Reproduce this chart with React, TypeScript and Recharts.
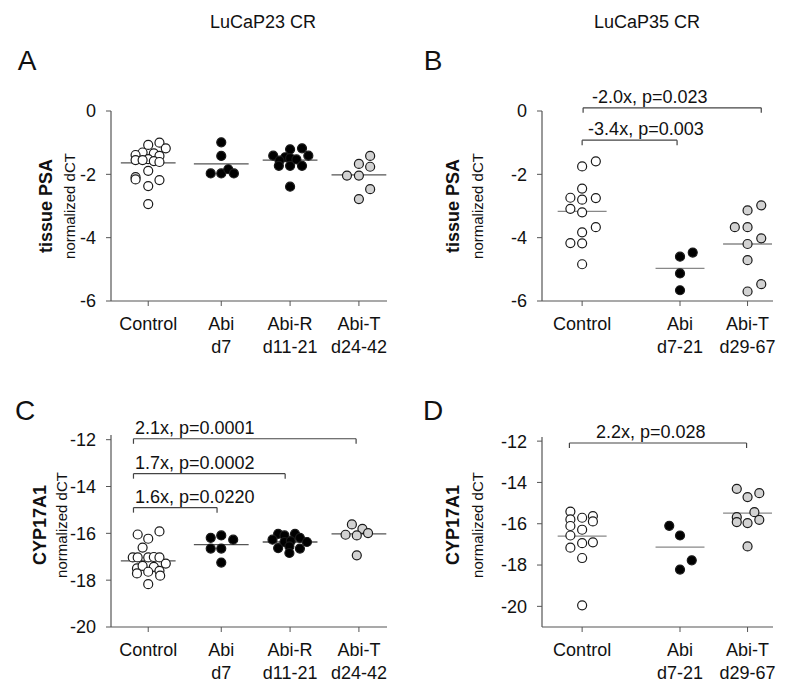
import React from 'react';
import { ScatterChart, Scatter, XAxis, YAxis, ReferenceLine, ReferenceDot } from 'recharts';

const FONT = '"Liberation Sans", Arial, sans-serif';

// ---------- categories ----------
const cats23 = ['Control', 'Abi', 'Abi-R', 'Abi-T'];
const subs23 = ['', 'd7', 'd11-21', 'd24-42'];
const pos23 = [1, 2.04, 3.02, 4];

const cats35 = ['Control', 'Abi', 'Abi-T'];
const subs35 = ['', 'd7-21', 'd29-67'];
const pos35 = [1, 2, 2.69];

// ---------- Panel A: LuCaP23 tissue PSA ----------
const aControl = [-1.0, -1.07, -1.18, -1.31, -1.39, -1.34, -1.42, -1.52, -1.55, -1.55, -1.58, -1.61, -1.89, -2.09, -2.16, -2.18, -2.37, -2.94];
const aControlJit = [0.16, 0, 0.25, -0.08, -0.18, 0.08, 0.16, 0, -0.18, -0.08, 0.08, 0.16, 0, -0.18, -0.18, 0.16, 0, 0];
const aAbi = [-0.99, -1.42, -1.97, -1.97, -1.84, -1.97];
const aAbiJit = [0, 0, -0.15, 0, 0.1, 0.18];
const aAbiR = [-1.41, -1.46, -1.21, -1.18, -1.41, -1.57, -1.49, -1.53, -1.73, -1.73, -1.73, -2.39];
const aAbiRJit = [-0.24, -0.07, 0, 0.17, 0.26, -0.15, 0, 0.09, -0.16, 0, 0.17, 0];
const aAbiT = [-2.04, -2.04, -1.67, -1.42, -1.76, -2.47, -2.78];
const aAbiTJit = [-0.17, 0, 0, 0.16, 0.16, 0.16, 0];
const aMedians = [-1.64, -1.67, -1.55, -2.02];

// ---------- Panel B: LuCaP35 tissue PSA ----------
const bControl = [-1.75, -1.59, -2.45, -2.74, -2.8, -2.75, -3.09, -3.2, -3.67, -3.83, -4.17, -4.18, -4.84];
const bControlJit = [0, 0.14, 0, -0.12, 0, 0.14, -0.12, 0, 0.14, 0, -0.12, 0, 0];
const bAbi = [-4.6, -4.47, -5.13, -5.66];
const bAbiJit = [0, 0.13, 0, 0];
const bAbiT = [-3.14, -2.98, -3.67, -3.67, -4.2, -4.02, -4.71, -5.47, -5.7];
const bAbiTJit = [0, 0.14, -0.13, 0, 0, 0.14, 0, 0.14, 0];
const bMedians = [-3.17, -4.97, -4.2];

// ---------- Panel C: LuCaP23 CYP17A1 ----------
const cControl = [-16.05, -16.23, -15.92, -16.61, -17.03, -17.03, -17.03, -17.01, -17.03, -17.29, -17.5, -17.39, -17.43, -17.64, -17.6, -17.71, -17.81, -18.17];
const cControlJit = [-0.15, 0, 0.16, -0.08, -0.22, -0.15, 0, 0.08, 0.16, 0.25, -0.16, -0.08, 0.08, 0, 0.16, -0.16, 0.17, 0];
const cAbi = [-16.19, -16.09, -16.27, -16.65, -16.65, -17.25];
const cAbiJit = [-0.15, 0, 0.17, -0.15, 0, 0];
const cAbiR = [-16.02, -16.09, -16.02, -16.19, -16.27, -16.37, -16.33, -16.37, -16.63, -16.56, -16.65, -16.84];
const cAbiRJit = [-0.17, -0.08, 0.07, 0.14, -0.25, -0.08, 0.01, 0.24, -0.17, -0.01, 0.14, -0.01];
const cAbiT = [-15.62, -15.81, -16.06, -16.09, -15.99, -16.94];
const cAbiTJit = [-0.1, 0.05, -0.19, -0.03, 0.13, -0.03];
const cMedians = [-17.18, -16.48, -16.37, -16.02];

// ---------- Panel D: LuCaP35 CYP17A1 ----------
const dControl = [-15.41, -15.79, -15.71, -15.63, -15.89, -16.11, -16.29, -16.57, -17.16, -16.94, -16.9, -17.66, -19.95];
const dControlJit = [-0.12, -0.12, 0, 0.11, 0.11, -0.12, 0, -0.12, -0.12, 0, 0.11, 0, 0];
const dAbi = [-16.1, -16.57, -17.77, -18.22];
const dAbiJit = [-0.11, 0, 0.12, 0];
const dAbiT = [-14.31, -14.71, -14.52, -15.68, -15.44, -15.81, -15.92, -15.97, -17.1];
const dAbiTJit = [-0.11, 0, 0.12, -0.11, 0.07, 0.12, -0.11, 0, 0];
const dMedians = [-16.6, -17.13, -15.49];

// ---------- significance brackets ----------
const bBrackets = [
  { from: 1.01, to: 2.83, y: 0.1, labelX: 1.05, label: '-2.0x, p=0.023' },
  { from: 1.0, to: 1.97, y: -0.92, labelX: 1.01, label: '-3.4x, p=0.003' },
];
const cBrackets = [
  { from: 0.79, to: 3.96, y: -11.96, labelX: 0.74, label: '2.1x, p=0.0001' },
  { from: 0.79, to: 2.95, y: -13.45, labelX: 0.74, label: '1.7x, p=0.0002' },
  { from: 0.79, to: 1.98, y: -14.9, labelX: 0.74, label: '1.6x, p=0.0220' },
];
const dBrackets = [
  { from: 0.87, to: 2.68, y: -12.09, labelX: 1.09, label: '2.2x, p=0.028' },
];

const yTicksPSA = [0, -2, -4, -6];
const yTicksCYP = [-12, -14, -16, -18, -20];

const WHITE = '#ffffff';
const BLACK = '#000000';
const GRAY = '#d2d2d2';

type Group = { vals: number[]; jit: number[]; fill: string };
type Bracket = { from: number; to: number; y: number; labelX: number; label: string };

const makeShape = (fill: string) => (props: any) => {
  const { cx, cy } = props;
  if (cx == null || cy == null) return null;
  return <circle cx={cx} cy={cy} r={4.5} fill={fill} stroke="#1a1a1a" strokeWidth={1.2} />;
};

const makeXTick = (cats: string[], subs: string[], positions: number[]) => (props: any) => {
  const { x, y, payload } = props;
  let idx = props.index;
  if (payload && typeof payload.value === 'number') {
    const found = positions.findIndex((p) => Math.abs(p - payload.value) < 1e-6);
    if (found >= 0) idx = found;
  }
  return (
    <text x={x} y={y} textAnchor="middle" fontFamily={FONT} fontSize={18} fill="#111">
      <tspan x={x} dy={22}>{cats[idx]}</tspan>
      {subs[idx] ? <tspan x={x} dy={23}>{subs[idx]}</tspan> : null}
    </text>
  );
};

type PanelCfg = {
  left: number; top: number; width: number; height: number;
  margin: { top: number; right: number; bottom: number; left: number };
  yw: number; xh: number;
  xDomain: [number, number]; yDomain: [number, number]; yTicks: number[];
  positions: number[]; cats: string[]; subs: string[];
  groups: Group[]; medians: number[]; medHalf: number; medColor: string;
  brackets: Bracket[];
};

const Panel = ({ cfg }: { cfg: PanelCfg }) => {
  const drop = ((cfg.yDomain[1] - cfg.yDomain[0]) * 5) / 190;
  return (
    <div style={{ position: 'absolute', left: cfg.left, top: cfg.top }}>
      <ScatterChart width={cfg.width} height={cfg.height} margin={cfg.margin}>
        <XAxis
          type="number"
          dataKey="x"
          domain={cfg.xDomain}
          ticks={cfg.positions}
          interval={0}
          allowDataOverflow
          height={cfg.xh}
          tickSize={5}
          tickMargin={2}
          stroke="#555"
          tickLine={{ stroke: '#555' }}
          axisLine={{ stroke: '#555', strokeWidth: 1.2 }}
          tick={makeXTick(cfg.cats, cfg.subs, cfg.positions)}
        />
        <YAxis
          type="number"
          dataKey="y"
          domain={cfg.yDomain}
          ticks={cfg.yTicks}
          interval={0}
          allowDataOverflow
          width={cfg.yw}
          tickSize={5}
          tickMargin={10}
          axisLine={{ stroke: '#555', strokeWidth: 1.2 }}
          tickLine={{ stroke: '#555' }}
          tick={{ fontSize: 18, fill: '#111', fontFamily: FONT }}
        />
        {cfg.medians.map((m, i) => (
          <ReferenceLine
            key={'m' + i}
            segment={[{ x: cfg.positions[i] - cfg.medHalf, y: m }, { x: cfg.positions[i] + cfg.medHalf, y: m }]}
            stroke={cfg.medColor}
            strokeWidth={1.3}
            ifOverflow="visible"
          />
        ))}
        {cfg.groups.map((g, gi) => (
          <Scatter
            key={'g' + gi}
            data={g.vals.map((v, i) => ({ x: cfg.positions[gi] + g.jit[i], y: v }))}
            shape={makeShape(g.fill)}
            isAnimationActive={false}
          />
        ))}
        {cfg.brackets.map((b, i) => (
          <ReferenceLine
            key={'bh' + i}
            segment={[{ x: b.from, y: b.y }, { x: b.to, y: b.y }]}
            stroke="#444"
            strokeWidth={1.2}
            ifOverflow="visible"
          />
        ))}
        {cfg.brackets.map((b, i) => (
          <ReferenceLine
            key={'bl' + i}
            segment={[{ x: b.from, y: b.y }, { x: b.from, y: b.y - drop }]}
            stroke="#444"
            strokeWidth={1.2}
            ifOverflow="visible"
          />
        ))}
        {cfg.brackets.map((b, i) => (
          <ReferenceLine
            key={'br' + i}
            segment={[{ x: b.to, y: b.y }, { x: b.to, y: b.y - drop }]}
            stroke="#444"
            strokeWidth={1.2}
            ifOverflow="visible"
          />
        ))}
        {cfg.brackets.map((b, i) => (
          <ReferenceDot
            key={'bt' + i}
            x={b.labelX}
            y={b.y}
            r={0}
            fill="none"
            stroke="none"
            ifOverflow="visible"
            label={{ value: b.label, position: 'insideBottomLeft', offset: 5, fontSize: 18, fill: '#111', fontFamily: FONT }}
          />
        ))}
      </ScatterChart>
    </div>
  );
};

const panelA: PanelCfg = {
  left: 0, top: 90, width: 400, height: 270,
  margin: { top: 21, right: 13, bottom: 0, left: 80 }, yw: 31, xh: 59,
  xDomain: [0.47, 4.4], yDomain: [-6, 0], yTicks: yTicksPSA,
  positions: pos23, cats: cats23, subs: subs23,
  groups: [
    { vals: aControl, jit: aControlJit, fill: WHITE },
    { vals: aAbi, jit: aAbiJit, fill: BLACK },
    { vals: aAbiR, jit: aAbiRJit, fill: BLACK },
    { vals: aAbiT, jit: aAbiTJit, fill: GRAY },
  ],
  medians: aMedians, medHalf: 0.39, medColor: '#555', brackets: [],
};

const panelB: PanelCfg = {
  left: 400, top: 60, width: 400, height: 300,
  margin: { top: 51, right: 27, bottom: 0, left: 111 }, yw: 31, xh: 59,
  xDomain: [0.59, 2.95], yDomain: [-6, 0], yTicks: yTicksPSA,
  positions: pos35, cats: cats35, subs: subs35,
  groups: [
    { vals: bControl, jit: bControlJit, fill: WHITE },
    { vals: bAbi, jit: bAbiJit, fill: BLACK },
    { vals: bAbiT, jit: bAbiTJit, fill: GRAY },
  ],
  medians: bMedians, medHalf: 0.25, medColor: '#888', brackets: bBrackets,
};

const panelC: PanelCfg = {
  left: 0, top: 400, width: 400, height: 287,
  margin: { top: 35, right: 13, bottom: 0, left: 80 }, yw: 31, xh: 60,
  xDomain: [0.47, 4.4], yDomain: [-20, -11.8], yTicks: yTicksCYP,
  positions: pos23, cats: cats23, subs: subs23,
  groups: [
    { vals: cControl, jit: cControlJit, fill: WHITE },
    { vals: cAbi, jit: cAbiJit, fill: BLACK },
    { vals: cAbiR, jit: cAbiRJit, fill: BLACK },
    { vals: cAbiT, jit: cAbiTJit, fill: GRAY },
  ],
  medians: cMedians, medHalf: 0.39, medColor: '#555', brackets: cBrackets,
};

const panelD: PanelCfg = {
  left: 400, top: 400, width: 400, height: 287,
  margin: { top: 37, right: 27, bottom: 0, left: 111 }, yw: 31, xh: 60,
  xDomain: [0.59, 2.95], yDomain: [-21, -11.8], yTicks: yTicksCYP,
  positions: pos35, cats: cats35, subs: subs35,
  groups: [
    { vals: dControl, jit: dControlJit, fill: WHITE },
    { vals: dAbi, jit: dAbiJit, fill: BLACK },
    { vals: dAbiT, jit: dAbiTJit, fill: GRAY },
  ],
  medians: dMedians, medHalf: 0.25, medColor: '#888', brackets: dBrackets,
};

const Txt = ({ x, y, text, size, bold, rotate }: any) => (
  <div
    style={{
      position: 'absolute',
      left: x,
      top: y,
      transform: `translate(-50%, -50%)${rotate ? ' rotate(-90deg)' : ''}`,
      whiteSpace: 'nowrap',
      fontFamily: FONT,
      fontSize: size,
      fontWeight: bold ? 'bold' : 'normal',
      color: '#111',
      lineHeight: 1,
    }}
  >
    {text}
  </div>
);

export default function App() {
  return (
    <div style={{ position: 'absolute', left: 0, top: 0, width: 800, height: 687, background: '#fff', overflow: 'hidden' }}>
      <Panel cfg={panelA} />
      <Panel cfg={panelB} />
      <Panel cfg={panelC} />
      <Panel cfg={panelD} />
      <Txt x={263} y={22} text="LuCaP23 CR" size={18} />
      <Txt x={647} y={22} text="LuCaP35 CR" size={18} />
      <Txt x={27} y={61} text="A" size={28} />
      <Txt x={433} y={61} text="B" size={28} />
      <Txt x={25} y={411} text="C" size={28} />
      <Txt x={433} y={411} text="D" size={28} />
      <Txt x={46} y={206} text="tissue PSA" size={18} bold rotate />
      <Txt x={69} y={206} text="normalized dCT" size={15} rotate />
      <Txt x={453} y={206} text="tissue PSA" size={18} bold rotate />
      <Txt x={477} y={206} text="normalized dCT" size={15} rotate />
      <Txt x={40} y={525} text="CYP17A1" size={18} bold rotate />
      <Txt x={61} y={525} text="normalized dCT" size={15} rotate />
      <Txt x={453} y={525} text="CYP17A1" size={18} bold rotate />
      <Txt x={477} y={525} text="normalized dCT" size={15} rotate />
    </div>
  );
}
